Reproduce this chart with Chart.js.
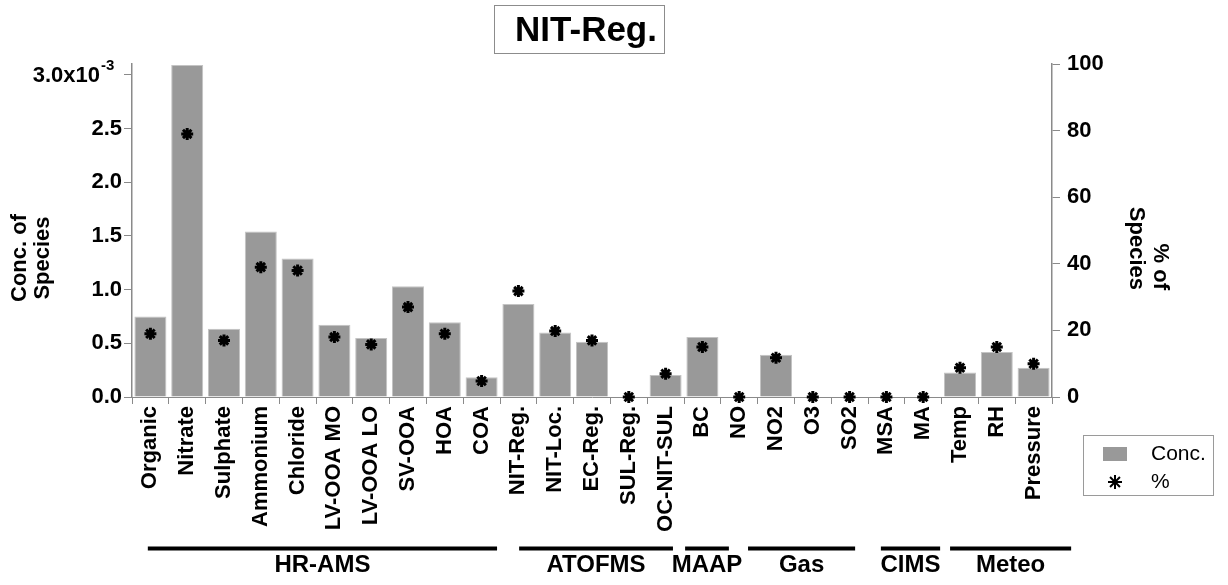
<!DOCTYPE html>
<html>
<head>
<meta charset="utf-8">
<title>NIT-Reg.</title>
<script src="https://cdn.jsdelivr.net/npm/chart.js@4/dist/chart.umd.min.js"></script>
<style>
  html, body { margin: 0; padding: 0; background: #ffffff; }
  #wrap { width: 1228px; height: 585px; }
</style>
</head>
<body>
<div id="wrap"><canvas id="chart" width="1228" height="585"></canvas></div>
<script>
// ---- data ----
const chartTitle = 'NIT-Reg.';
const categories = [
  'Organic', 'Nitrate', 'Sulphate', 'Ammonium', 'Chloride', 'LV-OOA MO', 'LV-OOA LO',
  'SV-OOA', 'HOA', 'COA', 'NIT-Reg.', 'NIT-Loc.', 'EC-Reg.', 'SUL-Reg.', 'OC-NIT-SUL',
  'BC', 'NO', 'NO2', 'O3', 'SO2', 'MSA', 'MA', 'Temp', 'RH', 'Pressure'
];
// concentration of species in each factor
const concValues = [
  0.75e-3, 3.09e-3, 0.636e-3, 1.54e-3, 1.29e-3, 0.673e-3, 0.549e-3,
  1.03e-3, 0.695e-3, 0.183e-3, 0.866e-3, 0.60e-3, 0.515e-3, 0, 0.205e-3,
  0.559e-3, 0, 0.394e-3, 0, 0, 0, 0, 0.229e-3, 0.419e-3, 0.273e-3
];
// percentage of each species apportioned to the factor
const percentValues = [
  19, 79, 17, 39, 38, 18, 15.8,
  27, 19, 4.8, 31.8, 19.8, 17, 0, 7,
  15, 0, 11.8, 0, 0, 0, 0, 8.8, 15, 10
];
const seriesNames = ['Conc.', '%'];
const leftAxisTitle = ['Conc. of', 'Species'];
const rightAxisTitle = ['% of', 'Species'];
const instrumentGroups = ['HR-AMS', 'ATOFMS', 'MAAP', 'Gas', 'CIMS', 'Meteo'];

// ---- layout (category units for the instrument brackets) ----
const groupSpans = [[-0.07, 9.42], [10.02, 14.2], [14.53, 15.72], [16.24, 19.15], [19.85, 21.46], [21.73, 25.02]];
const FONT = '"Liberation Sans", Arial, Helvetica, sans-serif';
const BAR_COLOR = '#999999';
const AXIS_COLOR = '#8a8a8a';

function drawStar(ctx, cx, cy, r) {
  ctx.beginPath();
  for (let k = 0; k < 4; k++) {
    const a = k * Math.PI / 4;
    ctx.moveTo(cx - r * Math.cos(a), cy - r * Math.sin(a));
    ctx.lineTo(cx + r * Math.cos(a), cy + r * Math.sin(a));
  }
  ctx.stroke();
}

const decorations = {
  id: 'decorations',
  afterDraw(chart) {
    const ctx = chart.ctx;
    const xs = chart.scales.x, ys = chart.scales.y;
    ctx.save();

    // boxed title
    ctx.strokeStyle = '#8c8c8c';
    ctx.lineWidth = 1;
    ctx.strokeRect(494.5, 5.5, 170, 48);
    ctx.fillStyle = '#000';
    ctx.font = 'bold 35px ' + FONT;
    ctx.textAlign = 'center';
    ctx.textBaseline = 'middle';
    ctx.fillText(chartTitle, 586, 31);

    // top tick label with exponent
    const yTop = ys.getPixelForValue(3.0e-3);
    ctx.textAlign = 'right';
    ctx.font = 'bold 22px ' + FONT;
    ctx.fillText('3.0x10', 100, yTop + 1);
    ctx.textAlign = 'left';
    ctx.font = 'bold 15px ' + FONT;
    ctx.fillText('-3', 101, yTop - 9);

    // left axis title
    ctx.save();
    ctx.translate(31, 258);
    ctx.rotate(-Math.PI / 2);
    ctx.font = 'bold 22px ' + FONT;
    ctx.textAlign = 'center';
    ctx.fillText(leftAxisTitle[0], 0, -11.5);
    ctx.fillText(leftAxisTitle[1], 0, 11.5);
    ctx.restore();

    // right axis title
    ctx.save();
    ctx.translate(1148, 290);
    ctx.rotate(Math.PI / 2);
    ctx.font = 'bold 22px ' + FONT;
    ctx.textAlign = 'right';
    ctx.fillText(rightAxisTitle[0], 0, -12);
    ctx.fillText(rightAxisTitle[1], 0, 12);
    ctx.restore();

    // legend
    ctx.strokeStyle = '#9a9a9a';
    ctx.lineWidth = 1;
    ctx.strokeRect(1083.5, 435.5, 130, 60);
    ctx.fillStyle = BAR_COLOR;
    ctx.fillRect(1103, 447, 24, 14);
    ctx.strokeStyle = '#000';
    ctx.lineWidth = 2;
    drawStar(ctx, 1115, 482, 7);
    ctx.fillStyle = '#000';
    ctx.font = '21px ' + FONT;
    ctx.textAlign = 'left';
    ctx.fillText(seriesNames[0], 1151, 454);
    ctx.fillText(seriesNames[1], 1151, 482);

    // instrument brackets
    const unit = xs.getPixelForValue(1) - xs.getPixelForValue(0);
    const x0 = xs.getPixelForValue(0);
    ctx.strokeStyle = '#000';
    ctx.lineWidth = 4;
    ctx.font = 'bold 24px ' + FONT;
    ctx.textAlign = 'center';
    instrumentGroups.forEach((name, i) => {
      const a = x0 + groupSpans[i][0] * unit;
      const b = x0 + groupSpans[i][1] * unit;
      ctx.beginPath();
      ctx.moveTo(a, 548.5);
      ctx.lineTo(b, 548.5);
      ctx.stroke();
      ctx.fillText(name, (a + b) / 2, 565);
    });
    ctx.restore();
  }
};

new Chart(document.getElementById('chart'), {
  type: 'bar',
  data: {
    labels: categories,
    datasets: [
      {
        type: 'line',
        label: seriesNames[1],
        data: percentValues,
        yAxisID: 'y1',
        showLine: false,
        pointStyle: 'star',
        pointRadius: 6,
        pointBorderWidth: 3,
        pointBorderColor: '#000',
        pointBackgroundColor: '#000',
        clip: false,
        order: 1
      },
      {
        label: seriesNames[0],
        data: concValues,
        yAxisID: 'y',
        backgroundColor: BAR_COLOR,
        borderColor: '#c4c4c4',
        borderWidth: 1,
        barPercentage: 0.87,
        categoryPercentage: 1.0,
        order: 2
      }
    ]
  },
  options: {
    responsive: false,
    animation: false,
    devicePixelRatio: 1,
    layout: { padding: { top: 64, left: 0, right: 0, bottom: 0 } },
    plugins: {
      legend: { display: false },
      title: { display: false },
      tooltip: { enabled: false }
    },
    scales: {
      x: {
        afterFit(s) { s.height = 188; },
        grid: { offset: true, drawOnChartArea: false, tickLength: 7, color: AXIS_COLOR, lineWidth: 1 },
        border: { display: true, color: AXIS_COLOR, width: 1 },
        ticks: {
          autoSkip: false, minRotation: 90, maxRotation: 90, padding: 2,
          color: '#000', font: { family: FONT, size: 22, weight: 'bold' }
        }
      },
      y: {
        position: 'left',
        min: 0, max: 3.1e-3,
        afterFit(s) { s.width = 132; },
        grid: { drawOnChartArea: false, tickLength: 8, color: AXIS_COLOR },
        border: { display: true, color: AXIS_COLOR, width: 1.5 },
        ticks: {
          stepSize: 0.5e-3, includeBounds: false, padding: 2,
          color: '#000', font: { family: FONT, size: 22, weight: 'bold' },
          callback: v => (Math.abs(v - 3.0e-3) < 1e-9 ? '' : (v * 1000).toFixed(1))
        }
      },
      y1: {
        position: 'right',
        min: 0, max: 100,
        afterFit(s) { s.width = 176; },
        grid: { drawOnChartArea: false, tickLength: 8, color: AXIS_COLOR },
        border: { display: true, color: AXIS_COLOR, width: 1.5 },
        ticks: {
          stepSize: 20, padding: 7,
          color: '#000', font: { family: FONT, size: 22, weight: 'bold' }
        }
      }
    }
  },
  plugins: [decorations]
});
</script>
</body>
</html>
